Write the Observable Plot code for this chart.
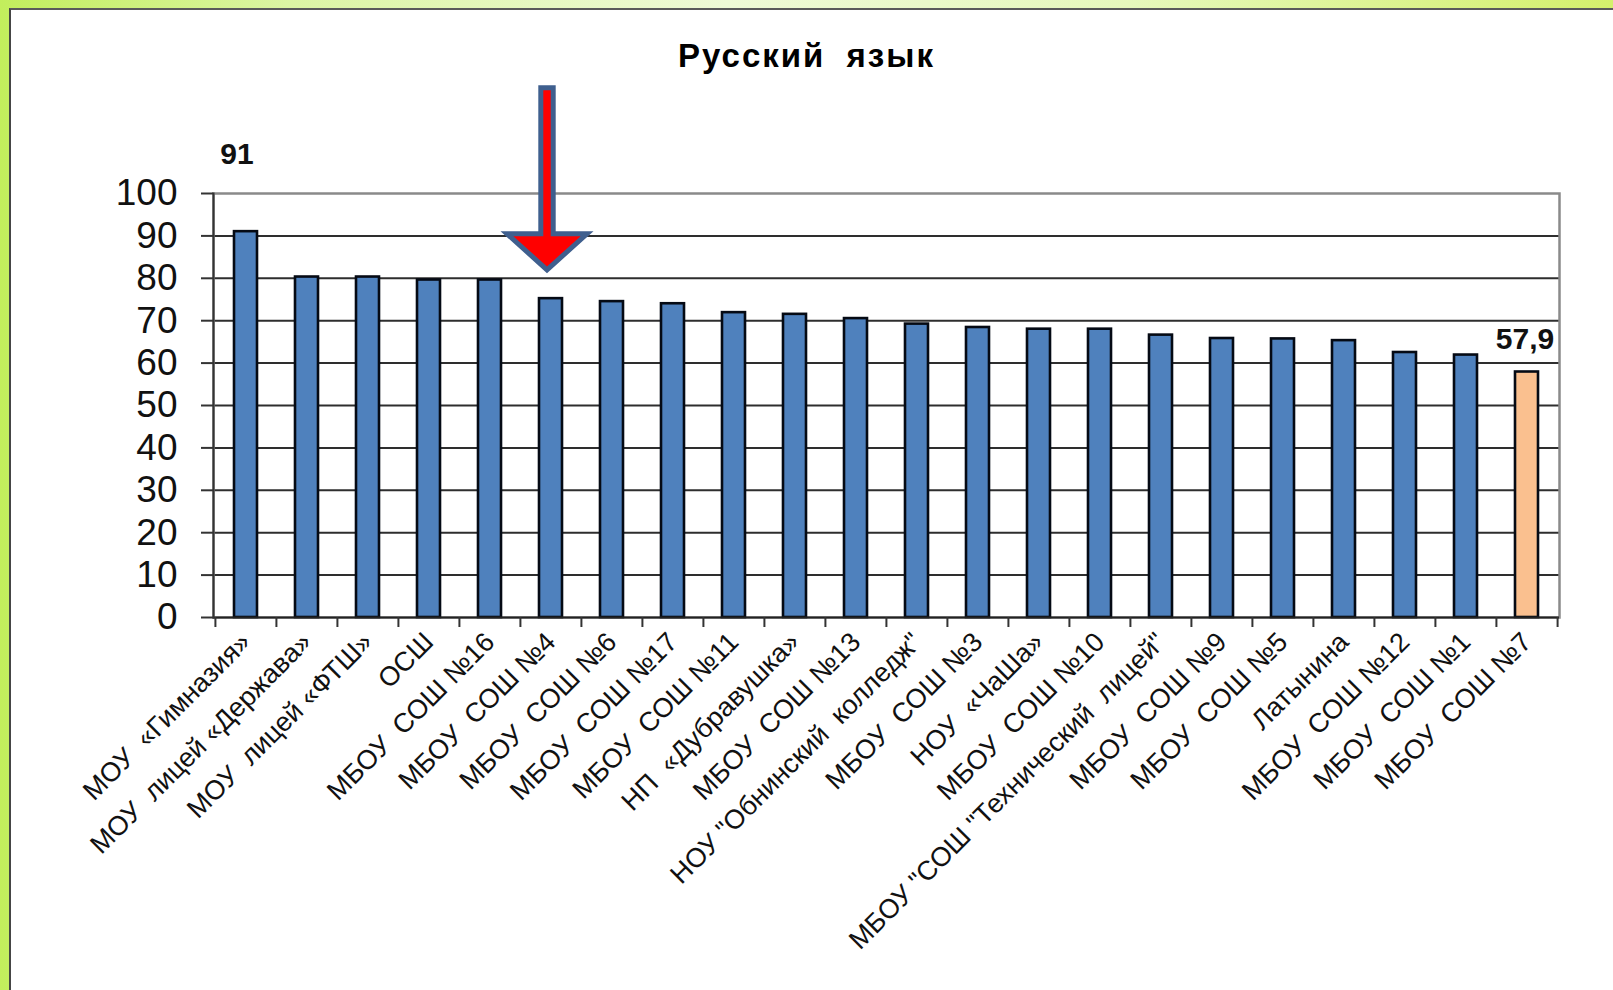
<!DOCTYPE html>
<html>
<head>
<meta charset="utf-8">
<script src="https://cdn.jsdelivr.net/npm/d3@7"></script>
<script src="https://cdn.jsdelivr.net/npm/@observablehq/plot@0.6"></script>
<style>
  html, body { margin: 0; padding: 0; width: 1613px; height: 990px; overflow: hidden; }
  body {
    position: relative;
    background: linear-gradient(90deg, #c2ee5c 0%, #dcf5a4 18%, #eefad6 45%, #e6f8bc 70%, #d4f06c 100%);
    font-family: "Liberation Sans", Arial, sans-serif;
  }
  #panel {
    position: absolute; left: 9px; top: 8px; right: 0; bottom: 0;
    background: #ffffff;
    border-left: 2px solid #454545;
    border-top: 2px solid #5a5a5a;
  }
  #title {
    position: absolute; left: 0; top: 0; width: 1613px; height: 100px;
    box-sizing: border-box; padding-top: 40px;
    text-align: center; font-size: 33px; line-height: 32px; font-weight: bold; color: #000;
    letter-spacing: 2px; word-spacing: 10px;
  }
  #chart { position: absolute; left: 0; top: 100px; }
</style>
</head>
<body>
<div id="panel"></div>
<div id="title">Русский язык</div>
<div id="chart"></div>
<script>
// ---- data ----
const schools = [
  "МОУ\u00a0 «Гимназия»",
  "МОУ\u00a0 лицей «Державa»",
  "МОУ\u00a0 лицей «ФТШ»",
  "ОСШ",
  "МБОУ\u00a0 СОШ №16",
  "МБОУ\u00a0 СОШ №4",
  "МБОУ\u00a0 СОШ №6",
  "МБОУ\u00a0 СОШ №17",
  "МБОУ\u00a0 СОШ №11",
  "НП\u00a0 «Дубравушка»",
  "МБОУ\u00a0 СОШ №13",
  "НОУ \"Обнинский\u00a0 колледж\"",
  "МБОУ\u00a0 СОШ №3",
  "НОУ\u00a0 «ЧаШа»",
  "МБОУ\u00a0 СОШ №10",
  "МБОУ \"СОШ \"Технический\u00a0 лицей\"",
  "МБОУ\u00a0 СОШ №9",
  "МБОУ\u00a0 СОШ №5",
  "Латынина",
  "МБОУ\u00a0 СОШ №12",
  "МБОУ\u00a0 СОШ №1",
  "МБОУ\u00a0 СОШ №7"
];
const scores = [91, 80.3, 80.3, 79.6, 79.6, 75.2, 74.5, 74.0, 71.9, 71.5, 70.5, 69.2, 68.4, 68.0, 68.0, 66.6, 65.8, 65.7, 65.3, 62.5, 61.9, 57.9];
const yTicks = [0, 10, 20, 30, 40, 50, 60, 70, 80, 90, 100];
const highlightedSchool = "МБОУ\u00a0 СОШ №7";
const topSchool = "МОУ\u00a0 «Гимназия»";
const arrowSchool = "МБОУ\u00a0 СОШ №4";
const arrowTipValue = 82;

const data = schools.map((s, i) => ({school: s, value: scores[i]}));
const fmt = v => String(v).replace(".", ",");

// ---- layout ----
const W = 1613, H = 890;
const mL = 213, mR = 54, mT = 93, mB = 373;
const step = (W - mL - mR) / schools.length;

const blockArrow = {
  draw(ctx) {
    ctx.moveTo(0, 0);
    ctx.lineTo(-40, -36);
    ctx.lineTo(-6.2, -36);
    ctx.lineTo(-6.2, -182);
    ctx.lineTo(6.2, -182);
    ctx.lineTo(6.2, -36);
    ctx.lineTo(40, -36);
    ctx.closePath();
  }
};

const chart = Plot.plot({
  width: W,
  height: H,
  marginLeft: mL,
  marginRight: mR,
  marginTop: mT,
  marginBottom: mB,
  style: {fontFamily: "'Liberation Sans', Arial, sans-serif", background: "transparent", overflow: "visible", color: "#111"},
  x: {type: "band", domain: schools, padding: 0, axis: null},
  y: {domain: [0, 100], axis: null},
  marks: [
    Plot.ruleY(yTicks.filter(t => t > 0 && t < 100), {stroke: "#2e2e2e", strokeWidth: 2}),
    Plot.frame({stroke: "#8a8a8a", strokeWidth: 2.5}),
    Plot.barY(data, {
      x: "school", y: "value",
      fill: d => d.school === highlightedSchool ? "#fac08f" : "#4f81bd",
      stroke: "#050a14", strokeWidth: 2.6,
      insetLeft: 19, insetRight: 19
    }),
    Plot.ruleY([0], {stroke: "#222", strokeWidth: 2}),
    Plot.frame({anchor: "left", stroke: "#333", strokeWidth: 2}),
    Plot.axisY({ticks: yTicks, tickSize: 12, tickPadding: 24, fontSize: 37, fill: "#111", stroke: "#333", strokeWidth: 2, label: null}),
    Plot.axisX({tickSize: 0, tickRotate: -45, tickPadding: 20, fontSize: 27, fill: "#111", label: null}),
    Plot.axisX({fill: "none", tickSize: 10, stroke: "#333", strokeWidth: 2, dx: -step / 2, label: null}),
    Plot.axisX({ticks: [schools[schools.length - 1]], fill: "none", tickSize: 10, stroke: "#333", strokeWidth: 2, dx: step / 2, label: null}),
    Plot.text(data.filter(d => d.school === topSchool), {
      x: "school", y: "value", text: d => fmt(d.value),
      dy: -77, dx: -9, fontSize: 30, fontWeight: "bold", fill: "#111"
    }),
    Plot.text(data.filter(d => d.school === highlightedSchool), {
      x: "school", y: "value", text: d => fmt(d.value),
      dy: -33, dx: -2, fontSize: 30, fontWeight: "bold", fill: "#111"
    }),
    Plot.dot([{school: arrowSchool, tip: arrowTipValue}], {
      x: "school", y: "tip", symbol: blockArrow, dx: -4,
      fill: "#ff0000", stroke: "#3f5f8e", strokeWidth: 5
    })
  ]
});
document.getElementById("chart").appendChild(chart);
</script>
</body>
</html>
